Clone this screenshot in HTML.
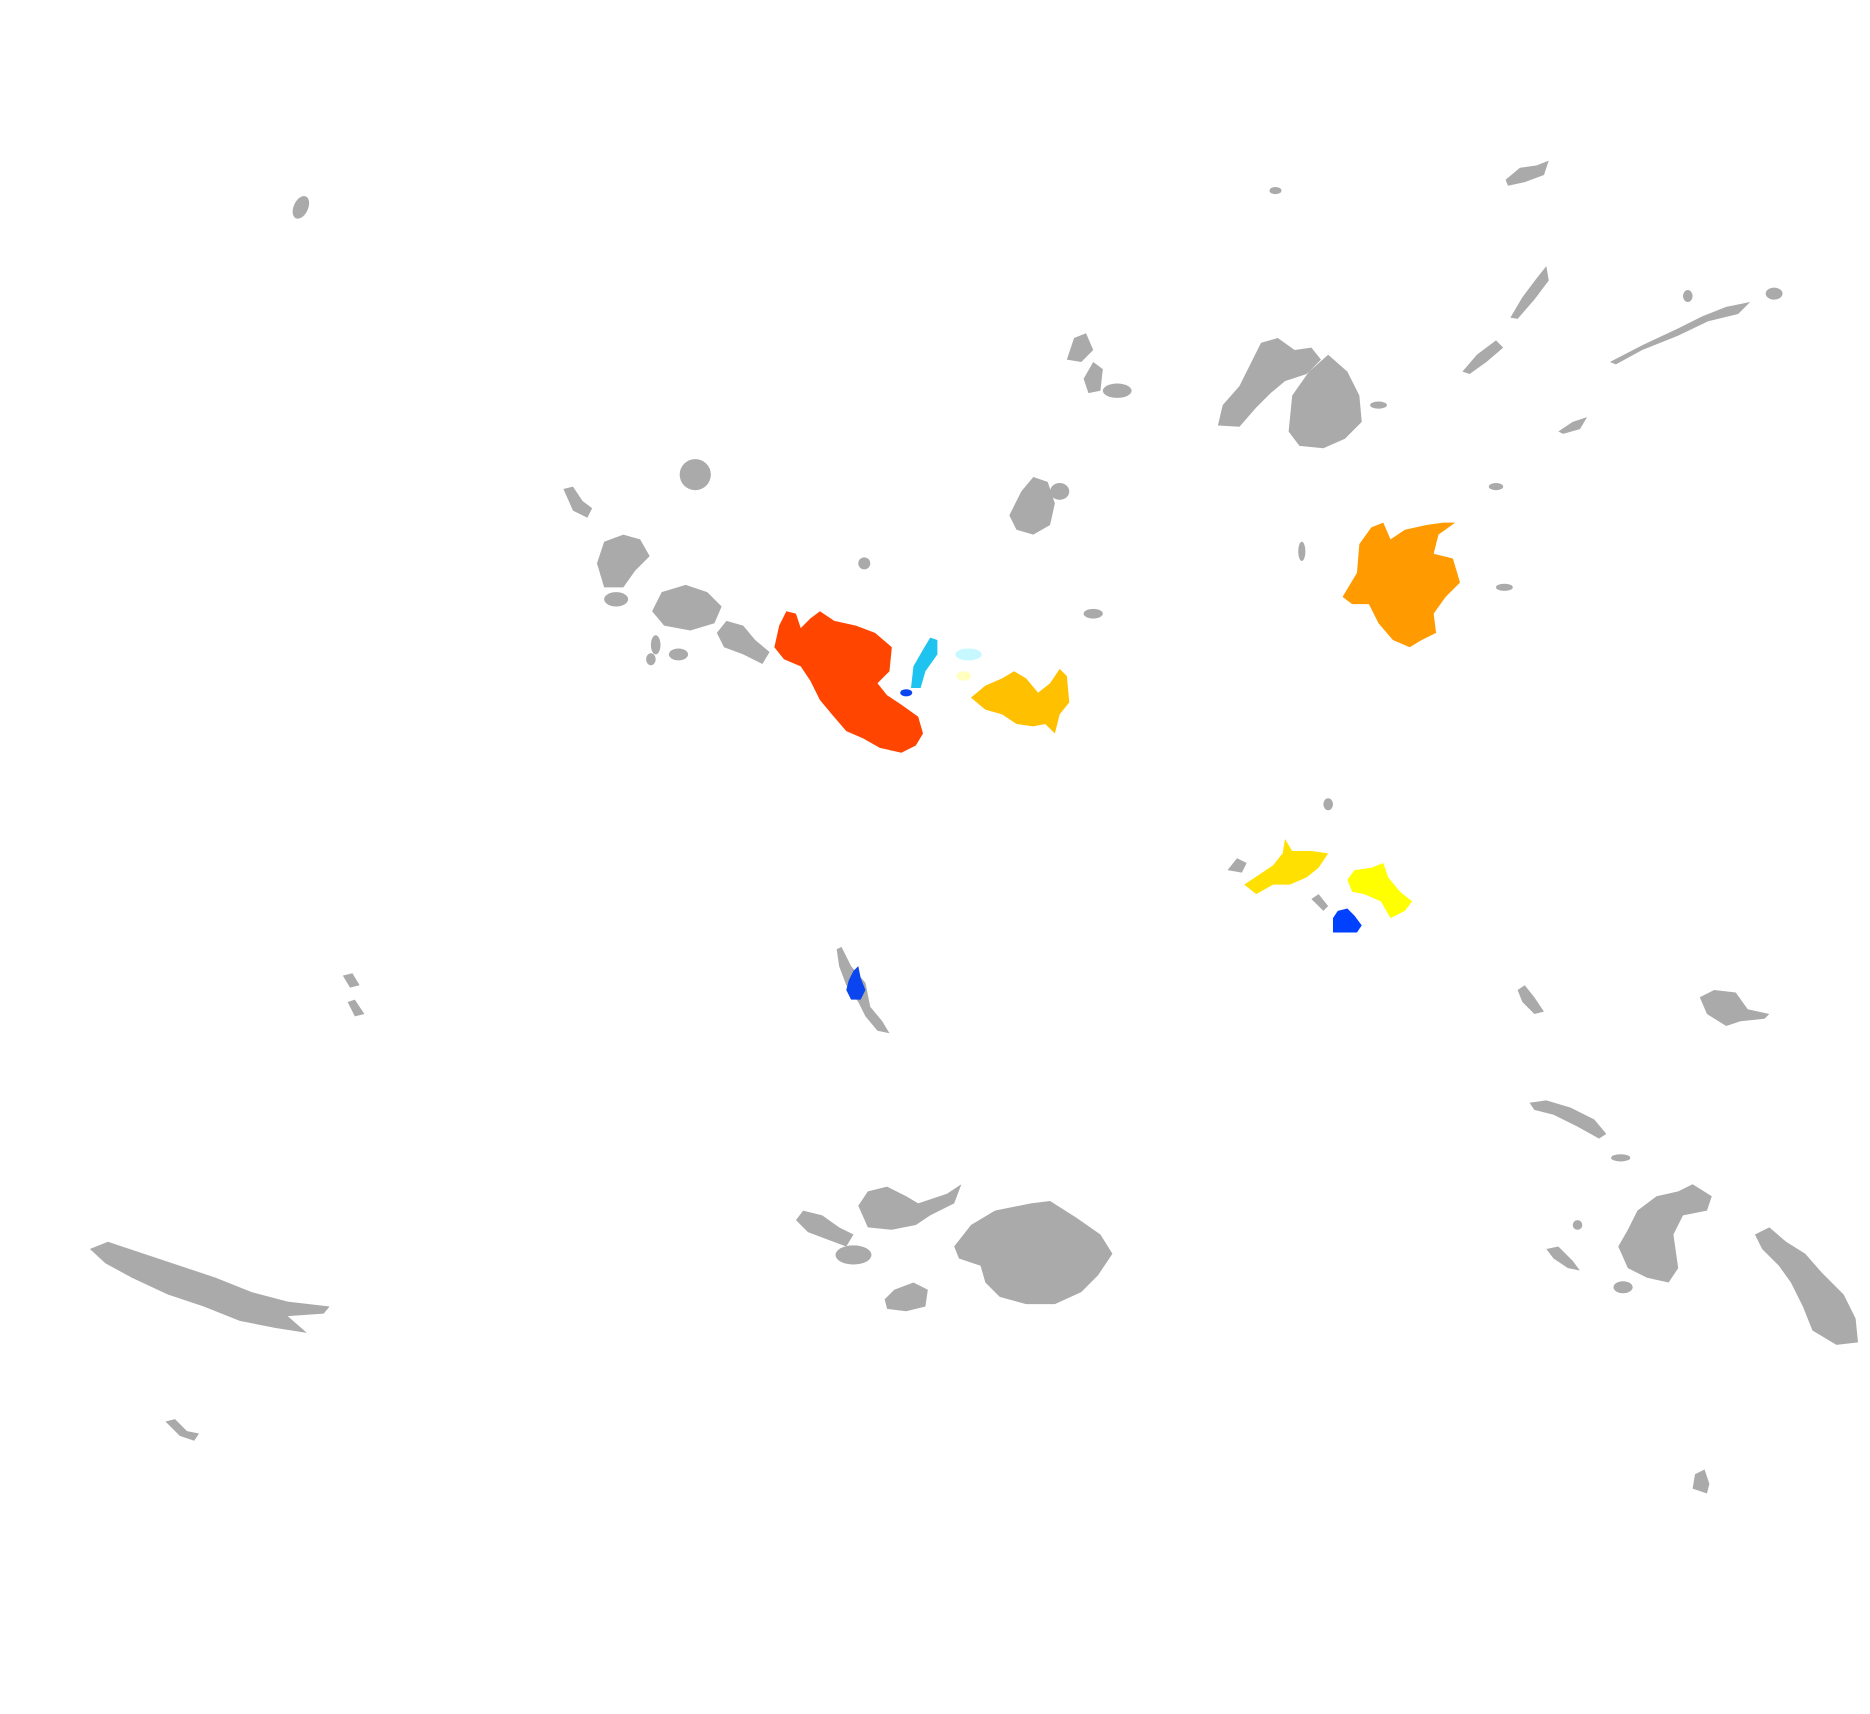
<!DOCTYPE html>
<html><head><meta charset="utf-8"><style>
html,body{margin:0;padding:0;background:#fff;}
svg{display:block;}
</style></head><body>
<svg width="1870" height="1714" viewBox="0 0 1560 1430" preserveAspectRatio="none" xmlns="http://www.w3.org/2000/svg">
<g fill="#aaaaaa">
<ellipse cx="251" cy="173" rx="6" ry="10" transform="rotate(25 251 173)"/>
<ellipse cx="1064" cy="159" rx="5" ry="3"/>
<polygon points="1256,150 1268,140 1282,138 1292,134 1288,146 1272,152 1258,155"/>
<polygon points="1260,265 1270,248 1282,232 1290,222 1292,234 1280,250 1266,266"/>
<polygon points="1220,310 1232,296 1248,284 1254,290 1240,302 1226,312"/>
<polygon points="1343,302 1370,288 1400,274 1420,264 1440,256 1460,252 1450,262 1425,268 1400,280 1370,292 1348,304"/>
<ellipse cx="1480" cy="245" rx="7" ry="5"/>
<ellipse cx="1408" cy="247" rx="4" ry="5"/>
<polygon points="1300,360 1312,352 1324,348 1318,358 1304,362"/>
<polygon points="890,300 896,282 906,278 912,292 902,302"/>
<polygon points="904,316 912,302 920,308 918,326 908,328"/>
<ellipse cx="932" cy="326" rx="12" ry="6"/>
<polygon points="1016,355 1020,338 1034,322 1044,302 1052,286 1066,282 1080,292 1094,290 1102,300 1090,312 1072,318 1060,328 1048,340 1034,356"/>
<polygon points="1075,360 1078,330 1092,310 1108,296 1124,310 1134,330 1136,352 1122,366 1104,374 1084,372"/>
<ellipse cx="1150" cy="338" rx="7" ry="3"/>
<circle cx="580" cy="396" r="13"/>
<polygon points="470,408 478,406 486,418 494,424 490,432 478,426"/>
<polygon points="842,430 852,410 862,398 874,402 880,420 876,438 862,446 848,442"/>
<ellipse cx="884" cy="410" rx="8" ry="7"/>
<polygon points="498,470 504,452 520,446 534,450 542,464 530,476 520,490 504,490"/>
<ellipse cx="514" cy="500" rx="10" ry="6"/>
<polygon points="544,510 552,494 572,488 590,494 602,506 596,520 576,526 554,522"/>
<polygon points="598,528 606,518 620,522 630,534 642,544 636,554 620,546 604,540"/>
<ellipse cx="547" cy="538" rx="4" ry="8"/>
<ellipse cx="566" cy="546" rx="8" ry="5"/>
<ellipse cx="543" cy="550" rx="4" ry="5"/>
<ellipse cx="721" cy="470" rx="5" ry="5"/>
<ellipse cx="912" cy="512" rx="8" ry="4"/>
<ellipse cx="1086" cy="460" rx="3" ry="8"/>
<ellipse cx="1248" cy="406" rx="6" ry="3"/>
<ellipse cx="1255" cy="490" rx="7" ry="3"/>
<ellipse cx="1108" cy="671" rx="4" ry="5"/>
<polygon points="1024,726 1032,716 1040,720 1036,728"/>
<polygon points="1094,750 1100,746 1108,756 1104,760"/>
<polygon points="698,792 702,790 710,806 722,820 726,840 736,852 742,862 732,860 722,848 716,836 706,822 700,806"/>
<polygon points="286,814 294,812 300,822 292,824"/>
<polygon points="290,836 296,834 304,846 296,848"/>
<polygon points="75,1042 90,1036 120,1046 150,1056 180,1066 210,1078 240,1086 275,1090 270,1096 240,1098 256,1112 230,1108 200,1102 170,1090 140,1080 110,1066 88,1054"/>
<polygon points="138,1186 146,1184 156,1194 166,1196 162,1202 150,1198"/>
<polygon points="664,1018 670,1010 686,1014 700,1024 712,1030 706,1040 690,1034 674,1028"/>
<polygon points="716,1006 724,994 740,990 756,998 766,1004 790,996 802,988 796,1004 776,1014 764,1022 744,1026 724,1024"/>
<ellipse cx="712" cy="1047" rx="15" ry="8"/>
<polygon points="738,1084 746,1076 762,1070 774,1076 772,1090 756,1094 740,1092"/>
<polygon points="796,1040 810,1022 830,1010 860,1004 876,1002 898,1016 918,1030 928,1046 916,1064 902,1078 880,1088 856,1088 834,1082 822,1070 818,1056 800,1050"/>
<polygon points="1276,920 1290,918 1310,924 1330,934 1340,946 1334,950 1316,940 1296,930 1280,926"/>
<ellipse cx="1352" cy="966" rx="8" ry="3"/>
<polygon points="1350,1040 1358,1026 1366,1010 1382,998 1400,994 1412,988 1428,998 1424,1010 1404,1014 1396,1030 1400,1058 1392,1070 1374,1066 1358,1058"/>
<ellipse cx="1316" cy="1022" rx="4" ry="4"/>
<polygon points="1290,1042 1300,1040 1312,1052 1318,1060 1308,1058 1296,1050"/>
<ellipse cx="1354" cy="1074" rx="8" ry="5"/>
<polygon points="1464,1030 1476,1024 1490,1036 1506,1046 1520,1062 1538,1080 1548,1100 1550,1120 1532,1122 1512,1110 1504,1090 1494,1070 1484,1056 1470,1042"/>
<polygon points="1418,832 1430,826 1448,828 1458,842 1476,846 1472,850 1452,852 1440,856 1424,846"/>
<polygon points="1266,826 1272,822 1280,832 1288,844 1280,846 1270,836"/>
<polygon points="1412,1242 1414,1230 1422,1226 1426,1238 1424,1246"/>
</g>
<polygon fill="#ff4500" points="646,540 650,522 656,510 664,512 668,524 676,516 684,510 696,518 714,522 730,528 744,540 742,560 732,570 740,580 752,588 766,598 770,612 764,622 752,628 734,624 720,616 706,610 694,596 684,584 676,568 668,556 654,550"/>
<polygon fill="#1ec3f0" points="762,556 770,542 776,532 782,534 782,546 772,560 768,574 760,574"/>
<ellipse fill="#0a45f0" cx="756" cy="578" rx="5" ry="3"/>
<ellipse fill="#c8f8ff" cx="808" cy="546" rx="11" ry="5"/>
<ellipse fill="#ffffc0" cx="804" cy="564" rx="6" ry="4"/>
<polygon fill="#ffc000" points="810,582 822,572 836,566 846,560 856,566 866,578 876,570 884,558 890,564 892,586 884,596 880,612 872,604 862,606 848,604 836,596 822,592"/>
<polygon fill="#ff9a00" points="1120,498 1132,478 1134,454 1144,440 1154,436 1160,450 1172,442 1190,438 1204,436 1214,436 1200,446 1196,462 1212,466 1218,486 1206,498 1196,512 1198,528 1186,534 1176,540 1162,534 1150,520 1142,504 1128,504"/>
<polygon fill="#ffe000" points="1038,738 1050,730 1062,722 1070,712 1072,700 1078,710 1094,710 1108,712 1100,724 1090,732 1076,738 1062,738 1048,746"/>
<polygon fill="#ffff00" points="1124,734 1130,726 1144,724 1154,720 1158,732 1168,744 1178,752 1172,760 1160,766 1152,752 1138,746 1128,744"/>
<polygon fill="#0040ff" points="1112,766 1116,760 1124,758 1130,764 1136,772 1132,778 1112,778"/>
<polygon fill="#0a45f0" points="708,818 712,810 716,806 718,816 722,826 718,834 710,834 706,826"/>
</svg>
</body></html>
